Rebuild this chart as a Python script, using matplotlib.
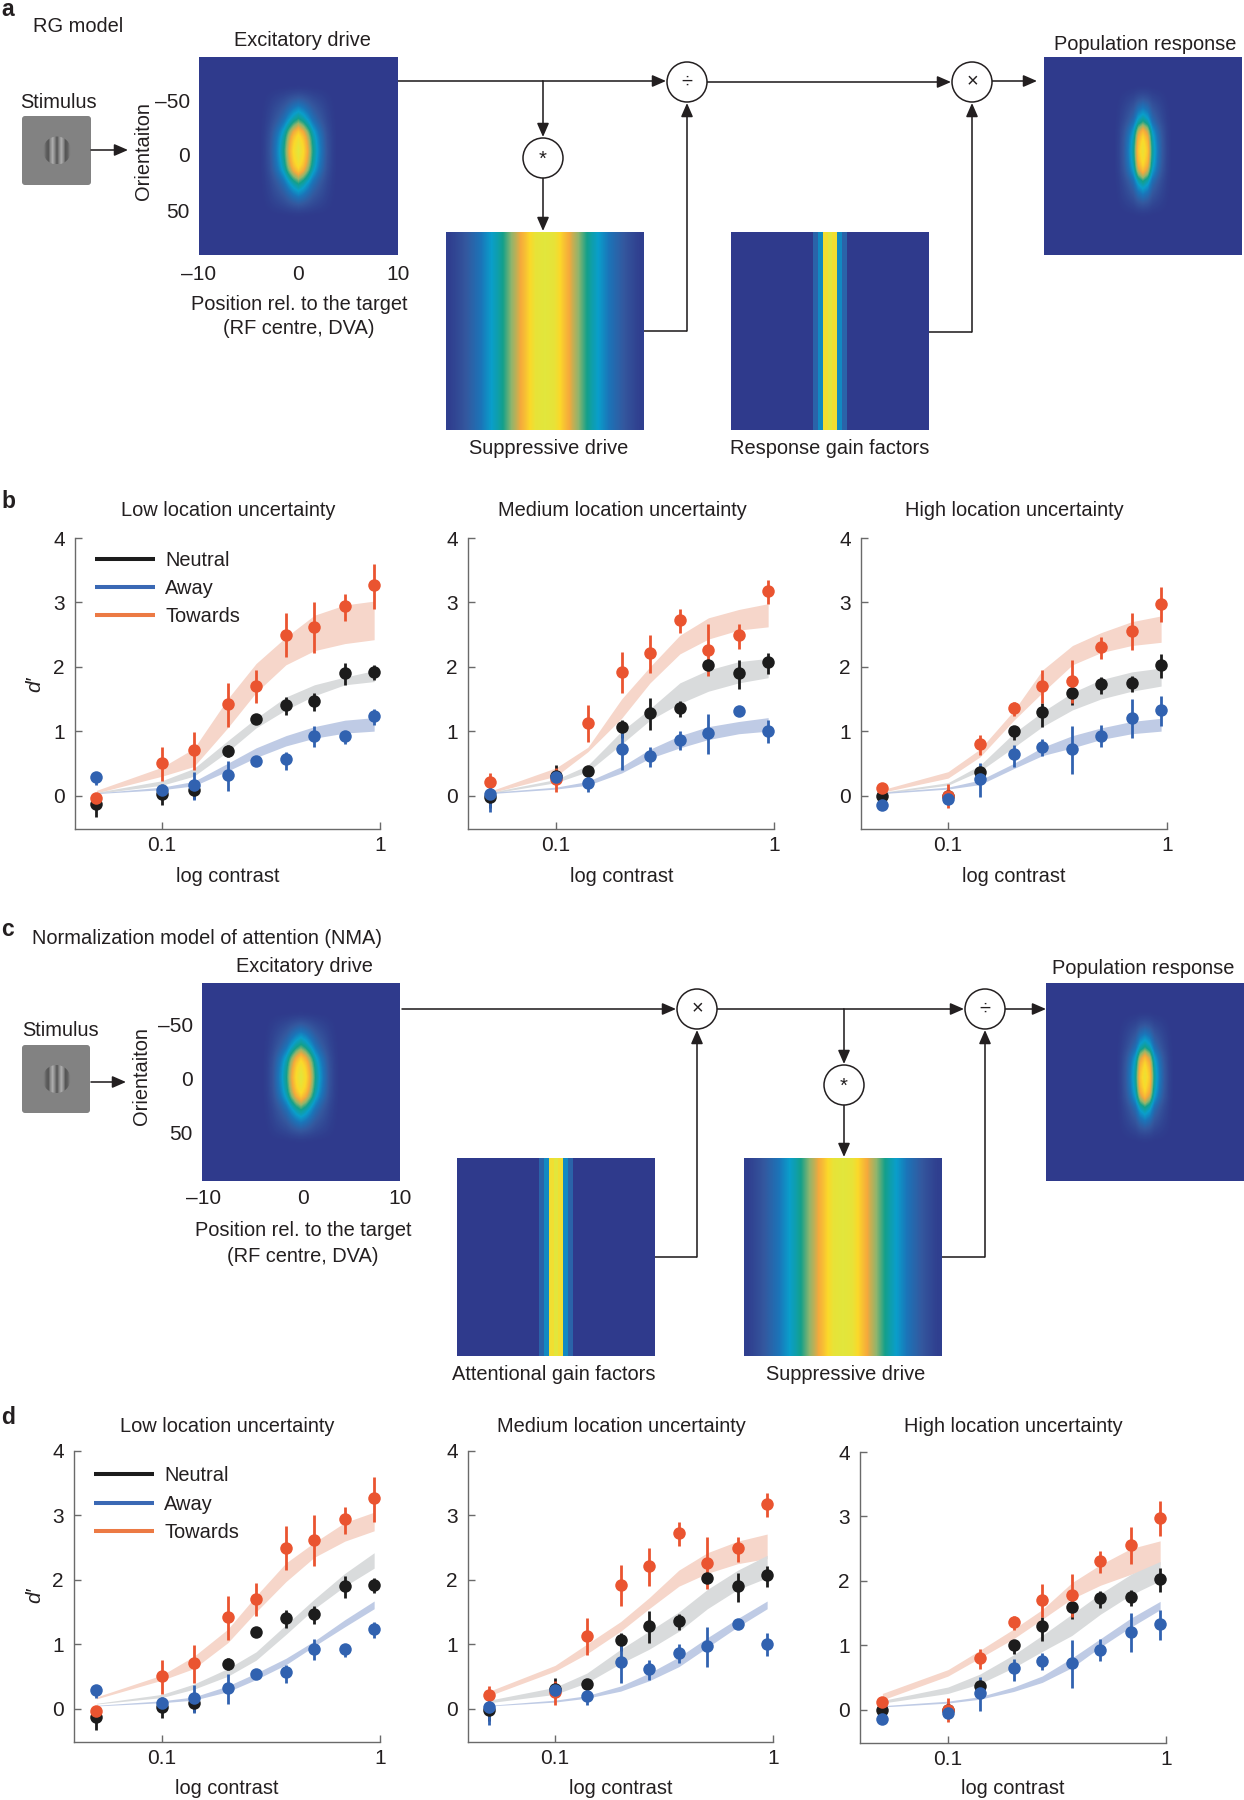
import numpy as np
import matplotlib
matplotlib.use("Agg")
import matplotlib.pyplot as plt
from matplotlib.colors import LinearSegmentedColormap
from matplotlib.lines import Line2D
from matplotlib.patches import Circle, FancyBboxPatch

plt.rcParams['font.family'] = ['Liberation Sans', 'DejaVu Sans']

# ---------- data ----------
contrast = [0.05, 0.1, 0.14, 0.2, 0.27, 0.37, 0.5, 0.69, 0.94]
x_ticks = [0.1, 1]
x_tick_labels = ['0.1', '1']
y_ticks = [0, 1, 2, 3, 4]
series_names = ['Neutral', 'Away', 'Towards']
condition_titles = ['Low location uncertainty', 'Medium location uncertainty', 'High location uncertainty']

# behavioural points (shared by panels b and d)
low_neutral = [-0.13, 0.03, 0.09, 0.69, 1.19, 1.40, 1.47, 1.90, 1.92]
low_neutral_lo = [-0.33, -0.14, -0.05, 0.60, 1.13, 1.25, 1.32, 1.71, 1.79]
low_neutral_hi = [0.03, 0.15, 0.20, 0.78, 1.25, 1.53, 1.60, 2.06, 2.02]
low_away = [0.28, 0.09, 0.16, 0.32, 0.54, 0.56, 0.93, 0.92, 1.24]
low_away_lo = [0.16, 0.00, -0.07, 0.07, 0.47, 0.40, 0.76, 0.80, 1.10]
low_away_hi = [0.35, 0.18, 0.37, 0.53, 0.61, 0.68, 1.08, 1.00, 1.35]
low_towards = [-0.04, 0.50, 0.70, 1.42, 1.70, 2.50, 2.62, 2.94, 3.27]
low_towards_lo = [-0.10, 0.22, 0.40, 1.07, 1.43, 2.15, 2.22, 2.71, 2.90]
low_towards_hi = [0.02, 0.76, 0.98, 1.75, 1.95, 2.83, 3.00, 3.13, 3.60]

med_neutral = [-0.03, 0.31, 0.38, 1.06, 1.28, 1.36, 2.03, 1.91, 2.07]
med_neutral_lo = [-0.20, 0.20, 0.32, 0.90, 1.01, 1.22, 1.95, 1.66, 1.89]
med_neutral_hi = [0.10, 0.47, 0.44, 1.17, 1.52, 1.47, 2.10, 2.11, 2.22]
med_away = [0.03, 0.29, 0.19, 0.73, 0.62, 0.87, 0.97, 1.32, 1.00]
med_away_lo = [-0.25, 0.20, 0.05, 0.39, 0.45, 0.70, 0.65, 1.28, 0.81]
med_away_hi = [0.24, 0.38, 0.30, 1.04, 0.75, 1.00, 1.27, 1.36, 1.17]
med_towards = [0.21, 0.25, 1.13, 1.92, 2.22, 2.72, 2.26, 2.49, 3.18]
med_towards_lo = [0.07, 0.06, 0.83, 1.59, 1.91, 2.52, 1.85, 2.27, 2.98]
med_towards_hi = [0.35, 0.43, 1.40, 2.23, 2.50, 2.90, 2.66, 2.67, 3.35]

high_neutral = [0.00, 0.00, 0.36, 1.00, 1.30, 1.59, 1.73, 1.75, 2.02]
high_neutral_lo = [-0.07, -0.10, 0.25, 0.87, 1.07, 1.40, 1.58, 1.61, 1.82]
high_neutral_hi = [0.07, 0.10, 0.45, 1.07, 1.43, 1.69, 1.84, 1.85, 2.20]
high_away = [-0.15, -0.05, 0.25, 0.64, 0.76, 0.73, 0.93, 1.21, 1.33]
high_away_lo = [-0.20, -0.12, -0.02, 0.45, 0.62, 0.34, 0.76, 0.90, 1.08]
high_away_hi = [-0.10, 0.02, 0.50, 0.79, 0.88, 1.08, 1.09, 1.50, 1.55]
high_towards = [0.11, 0.00, 0.80, 1.36, 1.70, 1.78, 2.31, 2.55, 2.98]
high_towards_lo = [0.03, -0.20, 0.63, 1.23, 1.43, 1.43, 2.12, 2.26, 2.69]
high_towards_hi = [0.20, 0.18, 0.94, 1.46, 1.95, 2.10, 2.46, 2.83, 3.24]

# model bands, RG model (panel b)
rg_low_neutral_up = [0.05, 0.23, 0.42, 0.85, 1.20, 1.53, 1.72, 1.84, 1.94]
rg_low_neutral_dn = [0.03, 0.16, 0.30, 0.68, 1.05, 1.33, 1.55, 1.72, 1.77]
rg_low_away_up = [0.04, 0.13, 0.22, 0.50, 0.74, 0.93, 1.07, 1.17, 1.21]
rg_low_away_dn = [0.03, 0.09, 0.15, 0.38, 0.59, 0.77, 0.89, 0.97, 1.00]
rg_low_towards_up = [0.08, 0.44, 0.73, 1.50, 2.05, 2.46, 2.80, 2.96, 3.02]
rg_low_towards_dn = [0.04, 0.30, 0.45, 1.05, 1.60, 2.03, 2.25, 2.36, 2.42]

rg_med_neutral_up = [0.05, 0.25, 0.47, 1.00, 1.35, 1.75, 1.95, 2.08, 2.13]
rg_med_neutral_dn = [0.03, 0.20, 0.37, 0.80, 1.17, 1.43, 1.62, 1.75, 1.83]
rg_med_away_up = [0.05, 0.13, 0.22, 0.45, 0.72, 0.93, 1.07, 1.15, 1.21]
rg_med_away_dn = [0.03, 0.10, 0.16, 0.35, 0.58, 0.74, 0.87, 0.96, 1.00]
rg_med_towards_up = [0.07, 0.43, 0.75, 1.50, 2.00, 2.49, 2.76, 2.89, 2.98]
rg_med_towards_dn = [0.04, 0.30, 0.68, 1.20, 1.75, 2.20, 2.43, 2.57, 2.62]

rg_high_neutral_up = [0.05, 0.20, 0.47, 0.97, 1.30, 1.60, 1.80, 1.92, 1.98]
rg_high_neutral_dn = [0.03, 0.16, 0.38, 0.75, 1.07, 1.33, 1.50, 1.62, 1.70]
rg_high_away_up = [0.05, 0.13, 0.24, 0.50, 0.75, 0.93, 1.05, 1.15, 1.20]
rg_high_away_dn = [0.03, 0.10, 0.17, 0.42, 0.62, 0.74, 0.87, 0.96, 1.00]
rg_high_towards_up = [0.09, 0.37, 0.72, 1.32, 1.95, 2.33, 2.53, 2.70, 2.79]
rg_high_towards_dn = [0.05, 0.27, 0.60, 1.17, 1.60, 2.03, 2.22, 2.33, 2.38]

# model bands, NMA (panel d)
nma_low_neutral_up = [0.08, 0.22, 0.38, 0.62, 0.88, 1.30, 1.70, 2.10, 2.42]
nma_low_neutral_dn = [0.07, 0.17, 0.30, 0.50, 0.75, 1.15, 1.55, 1.90, 2.18]
nma_low_away_up = [0.05, 0.12, 0.18, 0.35, 0.55, 0.78, 1.05, 1.38, 1.67]
nma_low_away_dn = [0.04, 0.09, 0.13, 0.26, 0.45, 0.68, 0.97, 1.27, 1.55]
nma_low_towards_up = [0.18, 0.52, 0.81, 1.23, 1.75, 2.26, 2.58, 2.89, 3.05]
nma_low_towards_dn = [0.15, 0.44, 0.62, 1.02, 1.50, 1.97, 2.35, 2.60, 2.76]

nma_med_neutral_up = [0.13, 0.33, 0.55, 0.92, 1.20, 1.50, 1.85, 2.15, 2.38]
nma_med_neutral_dn = [0.09, 0.22, 0.40, 0.70, 0.92, 1.20, 1.55, 1.85, 2.03]
nma_med_away_up = [0.05, 0.13, 0.20, 0.35, 0.55, 0.80, 1.10, 1.40, 1.67]
nma_med_away_dn = [0.04, 0.10, 0.16, 0.27, 0.43, 0.65, 0.95, 1.27, 1.55]
nma_med_towards_up = [0.27, 0.67, 1.00, 1.35, 1.72, 2.15, 2.42, 2.60, 2.71]
nma_med_towards_dn = [0.20, 0.58, 0.85, 1.20, 1.55, 1.90, 2.10, 2.25, 2.33]

nma_high_neutral_up = [0.14, 0.35, 0.55, 0.85, 1.15, 1.48, 1.80, 2.10, 2.30]
nma_high_neutral_dn = [0.10, 0.25, 0.40, 0.65, 0.90, 1.15, 1.48, 1.78, 2.00]
nma_high_away_up = [0.06, 0.13, 0.20, 0.35, 0.52, 0.80, 1.10, 1.42, 1.68]
nma_high_away_dn = [0.04, 0.10, 0.16, 0.28, 0.42, 0.65, 0.97, 1.28, 1.55]
nma_high_towards_up = [0.25, 0.62, 0.92, 1.25, 1.55, 1.97, 2.25, 2.50, 2.62]
nma_high_towards_dn = [0.15, 0.52, 0.80, 1.10, 1.40, 1.72, 1.93, 2.10, 2.25]

# heat-map half profiles
exc_x_half = [1.0, 0.88, 0.70, 0.50, 0.36, 0.24, 0.12, 0.04]
exc_y_half = [1.0, 0.98, 0.95, 0.90, 0.82, 0.70, 0.58, 0.48, 0.40, 0.32, 0.24, 0.16, 0.08, 0.02]
pop_x_half = [0.95, 0.80, 0.46, 0.30, 0.16, 0.05]
pop_y_half = [1.0, 0.98, 0.95, 0.90, 0.82, 0.70, 0.56, 0.46, 0.38, 0.30, 0.22, 0.14, 0.07, 0.02]
supp_half = [1.0, 0.97, 0.80, 0.66, 0.55, 0.44, 0.35, 0.26, 0.18, 0.10, 0.03]
gain_half = [1.0, 0.92, 0.33, 0.20]
grating_bars = [0.50, 0.38, 0.33, 0.55, 0.68, 0.52, 0.33, 0.52, 0.68, 0.55, 0.33, 0.38, 0.50]

# ---------- styles ----------
W, H = 1244, 1800
INK = '#231f20'
AXC = '#6a6a6a'
FS = 14.4
dot_colors = {'Neutral': '#1c1c1c', 'Away': '#3162b0', 'Towards': '#ea5430'}
leg_colors = {'Neutral': '#1c1c1c', 'Away': '#3a68b4', 'Towards': '#ec7a44'}
band_colors = {'Neutral': '#d9dbdc', 'Away': '#bfcbe5', 'Towards': '#f6d6ca'}
parula = LinearSegmentedColormap.from_list('fig', [
    (0.00, '#2f3a8c'), (0.15, '#34589f'), (0.28, '#1b75b9'), (0.38, '#0a9ecb'),
    (0.50, '#14a08a'), (0.60, '#8fb56d'), (0.72, '#f5a93c'), (0.87, '#fbd92a'),
    (1.00, '#e2e63c')])

fig = plt.figure(figsize=(W / 100, H / 100), dpi=100, facecolor='white')
ov = fig.add_axes([0, 0, 1, 1], zorder=5)
ov.set_xlim(0, W)
ov.set_ylim(H, 0)
ov.axis('off')


def mirror(half, n):
    h = np.r_[half, np.zeros(max(0, (n + 1) // 2 - len(half)))]
    return np.r_[h[:0:-1], h]


def heat(arr, x0, x1, y0, y1, interp='bilinear'):
    ov.imshow(arr, extent=[x0, x1, y1, y0], cmap=parula, vmin=0, vmax=1, aspect='auto',
              interpolation=interp, zorder=1)


def blob(xh, yh):
    return np.roll(np.outer(mirror(yh, 41), mirror(xh, 41)), -1, axis=0)


def txt(x, y, s, ha='center', **kw):
    kw.setdefault('fontsize', FS)
    kw.setdefault('color', INK)
    ov.text(x, y + 2, s, ha=ha, va='center', zorder=6, **kw)


def line(xs, ys):
    ov.add_line(Line2D(xs, ys, color=INK, lw=1.15, zorder=3, solid_capstyle='butt'))


def arrow(x0, y0, x1, y1):
    ov.annotate('', xy=(x1, y1), xytext=(x0, y0),
                arrowprops=dict(arrowstyle='-|>,head_length=0.55,head_width=0.24', color=INK, lw=1.15,
                                mutation_scale=15, shrinkA=0, shrinkB=0), zorder=3)


def node(x, y, s, yo=0):
    ov.add_patch(Circle((x, y), 20, fc='white', ec=INK, lw=1.1, zorder=4))
    txt(x, y + yo - 2, s, fontsize=14.5)


def stimulus(x0, y0, size):
    ov.add_patch(FancyBboxPatch((x0 + 2, y0 + 2), size - 4, size - 4, boxstyle='round,pad=2,rounding_size=3',
                                fc='#828282', ec='none', zorder=1))
    cx, cy = x0 + size / 2 + 0.5, y0 + size / 2
    im = ov.imshow(np.array([grating_bars]), extent=[cx - 14, cx + 14, cy + 14, cy - 14], cmap='gray', vmin=0, vmax=1,
                   aspect='auto', interpolation='bilinear', zorder=2)
    im.set_clip_path(Circle((cx, cy), 14, transform=ov.transData))


# ---------- panel a ----------
txt(1, 8, 'a', ha='left', fontweight='bold', fontsize=16.5)
txt(33, 25, 'RG model', ha='left')
stimulus(22, 116, 69)
txt(58, 100, 'Stimulus')
arrow(91, 150, 128, 150)
heat(blob(exc_x_half, exc_y_half), 199, 398, 57, 255)
txt(302, 39, 'Excitatory drive')
txt(143, 149, 'Orientaiton', rotation=90)
for yy, s in [(101, '\u201350'), (155, '0'), (210, '50')]:
    txt(190, yy, s, ha='right', fontsize=15)
for xx, s in [(199, '\u201310'), (298, '0'), (398, '10')]:
    txt(xx, 272, s, fontsize=15)
txt(299, 302, 'Position rel. to the target')
txt(299, 326, '(RF centre, DVA)')
line([398, 543], [81, 81])
arrow(543, 81, 666, 81)
arrow(543, 81, 543, 137)
node(543, 158, '*', yo=1)
arrow(543, 178, 543, 231)
node(687, 82, '\u00f7')
arrow(707, 82, 951, 82)
node(972, 82, '\u00d7')
arrow(992, 81, 1037, 81)
heat(np.tile(mirror(supp_half, 21), (4, 1)), 446, 644, 232, 430)
txt(549, 447, 'Suppressive drive')
line([644, 687], [331, 331])
arrow(687, 331, 687, 103)
heat(np.tile(mirror(gain_half, 41), (4, 1)), 731, 929, 232, 430, interp='nearest')
txt(830, 447, 'Response gain factors')
line([929, 972], [332, 332])
arrow(972, 332, 972, 103)
heat(blob(pop_x_half, pop_y_half), 1044, 1242, 57, 255)
txt(1145, 42, 'Population response')

# ---------- panel c ----------
txt(1, 927, 'c', ha='left', fontweight='bold', fontsize=16.5)
txt(32, 936, 'Normalization model of attention (NMA)', ha='left')
stimulus(22, 1045, 68)
txt(60, 1029, 'Stimulus')
arrow(91, 1082, 126, 1082)
heat(blob(exc_x_half, exc_y_half), 202, 400, 983, 1181)
txt(304, 965, 'Excitatory drive')
txt(142, 1074, 'Orientaiton', rotation=90)
for yy, s in [(1024, '\u201350'), (1079, '0'), (1133, '50')]:
    txt(193, yy, s, ha='right', fontsize=15)
for xx, s in [(204, '\u201310'), (303, '0'), (400, '10')]:
    txt(xx, 1197, s, fontsize=15)
txt(303, 1229, 'Position rel. to the target')
txt(303, 1254, '(RF centre, DVA)')
arrow(402, 1009, 676, 1009)
node(697, 1009, '\u00d7')
line([717, 844], [1009, 1009])
arrow(844, 1009, 964, 1009)
arrow(844, 1009, 844, 1064)
node(844, 1085, '*', yo=1)
arrow(844, 1105, 844, 1157)
node(985, 1009, '\u00f7')
arrow(1005, 1009, 1046, 1009)
heat(np.tile(mirror(gain_half, 41), (4, 1)), 457, 655, 1158, 1356, interp='nearest')
txt(554, 1373, 'Attentional gain factors')
line([655, 697], [1257, 1257])
arrow(697, 1257, 697, 1030)
heat(np.tile(mirror(supp_half, 21), (4, 1)), 744, 942, 1158, 1356)
txt(846, 1373, 'Suppressive drive')
line([942, 985], [1257, 1257])
arrow(985, 1257, 985, 1030)
heat(blob(pop_x_half, pop_y_half), 1046, 1244, 983, 1181)
txt(1143, 967, 'Population response')

ov.set_xlim(0, W)
ov.set_ylim(H, 0)


# ---------- panels b and d ----------
def dprime_axes(left, right, x01, top, bottom):
    ax = fig.add_axes([left / W, 1 - bottom / H, (right - left) / W, (bottom - top) / H], zorder=2)
    ax.patch.set_alpha(0)
    ax.set_xscale('log')
    ax.set_xlim(10 ** (-1 - (x01 - left) / (right - x01)), 1)
    ax.set_ylim(-0.52, 4)
    ax.set_xticks(x_ticks)
    ax.set_xticklabels(x_tick_labels)
    ax.minorticks_off()
    ax.set_yticks(y_ticks)
    ax.tick_params(direction='in', length=5, width=1.0, color=AXC, labelcolor=INK, labelsize=15)
    ax.tick_params(axis='x', pad=4.8)
    ax.tick_params(axis='y', pad=7.4)
    for s in ('top', 'right'):
        ax.spines[s].set_visible(False)
    for s in ('left', 'bottom'):
        ax.spines[s].set_color(AXC)
        ax.spines[s].set_linewidth(1.0)
    return ax


def draw_panel(ax, bands, points):
    for name in ('Towards', 'Neutral', 'Away'):
        up, dn = bands[name]
        ax.fill_between(contrast, dn, up, color=band_colors[name], lw=0, zorder=1)
    for name in ('Neutral', 'Towards', 'Away'):
        y, lo, hi = [np.array(v) for v in points[name]]
        ax.errorbar(contrast, y, yerr=[y - lo, hi - y], fmt='o', ms=9, mfc=dot_colors[name], mec=dot_colors[name],
                    mew=0, ecolor=dot_colors[name], elinewidth=2.0, capsize=0, clip_on=False, zorder=3)


points_low = {'Neutral': (low_neutral, low_neutral_lo, low_neutral_hi), 'Away': (low_away, low_away_lo, low_away_hi),
              'Towards': (low_towards, low_towards_lo, low_towards_hi)}
points_med = {'Neutral': (med_neutral, med_neutral_lo, med_neutral_hi), 'Away': (med_away, med_away_lo, med_away_hi),
              'Towards': (med_towards, med_towards_lo, med_towards_hi)}
points_high = {'Neutral': (high_neutral, high_neutral_lo, high_neutral_hi), 'Away': (high_away, high_away_lo, high_away_hi),
               'Towards': (high_towards, high_towards_lo, high_towards_hi)}
all_points = [points_low, points_med, points_high]

rg_bands = [
    {'Neutral': (rg_low_neutral_up, rg_low_neutral_dn), 'Away': (rg_low_away_up, rg_low_away_dn),
     'Towards': (rg_low_towards_up, rg_low_towards_dn)},
    {'Neutral': (rg_med_neutral_up, rg_med_neutral_dn), 'Away': (rg_med_away_up, rg_med_away_dn),
     'Towards': (rg_med_towards_up, rg_med_towards_dn)},
    {'Neutral': (rg_high_neutral_up, rg_high_neutral_dn), 'Away': (rg_high_away_up, rg_high_away_dn),
     'Towards': (rg_high_towards_up, rg_high_towards_dn)}]
nma_bands = [
    {'Neutral': (nma_low_neutral_up, nma_low_neutral_dn), 'Away': (nma_low_away_up, nma_low_away_dn),
     'Towards': (nma_low_towards_up, nma_low_towards_dn)},
    {'Neutral': (nma_med_neutral_up, nma_med_neutral_dn), 'Away': (nma_med_away_up, nma_med_away_dn),
     'Towards': (nma_med_towards_up, nma_med_towards_dn)},
    {'Neutral': (nma_high_neutral_up, nma_high_neutral_dn), 'Away': (nma_high_away_up, nma_high_away_dn),
     'Towards': (nma_high_towards_up, nma_high_towards_dn)}]

layout_b = [(75, 380, 162, 538, 829), (468, 774, 556, 538, 829), (861, 1167, 948, 538, 829)]
layout_d = [(74, 380, 162, 1451, 1742), (468, 773, 555, 1451, 1742), (860, 1166, 948, 1452, 1743)]
title_b = [(228, 509), (622, 509), (1014, 509)]
title_d = [(227, 1424), (621, 1424), (1013, 1424)]

for layout, titles, bands, xlab_y, dy, letter, ly, leg_y in [
        (layout_b, title_b, rg_bands, 874, 682, 'b', 500, 0.957),
        (layout_d, title_d, nma_bands, 1787, 1593, 'd', 1416, 0.947)]:
    txt(1, ly, letter, ha='left', fontweight='bold', fontsize=16.5)
    txt(35, dy, 'd\u2032', rotation=90, style='italic', fontsize=15)
    for i in range(3):
        ax = dprime_axes(*layout[i])
        draw_panel(ax, bands[i], all_points[i])
        txt(titles[i][0], titles[i][1], condition_titles[i])
        txt(titles[i][0], xlab_y, 'log contrast')
        if i == 0:
            handles = [Line2D([], [], color=leg_colors[n], lw=2.9, solid_capstyle='butt') for n in series_names]
            ax.legend(handles, series_names, frameon=False, loc='upper left', bbox_to_anchor=(0.066, leg_y),
                      fontsize=FS, handlelength=3.0, handletextpad=0.5, labelspacing=0.46, borderpad=0,
                      borderaxespad=0, labelcolor=INK)

fig.savefig('out.png', dpi=100)
